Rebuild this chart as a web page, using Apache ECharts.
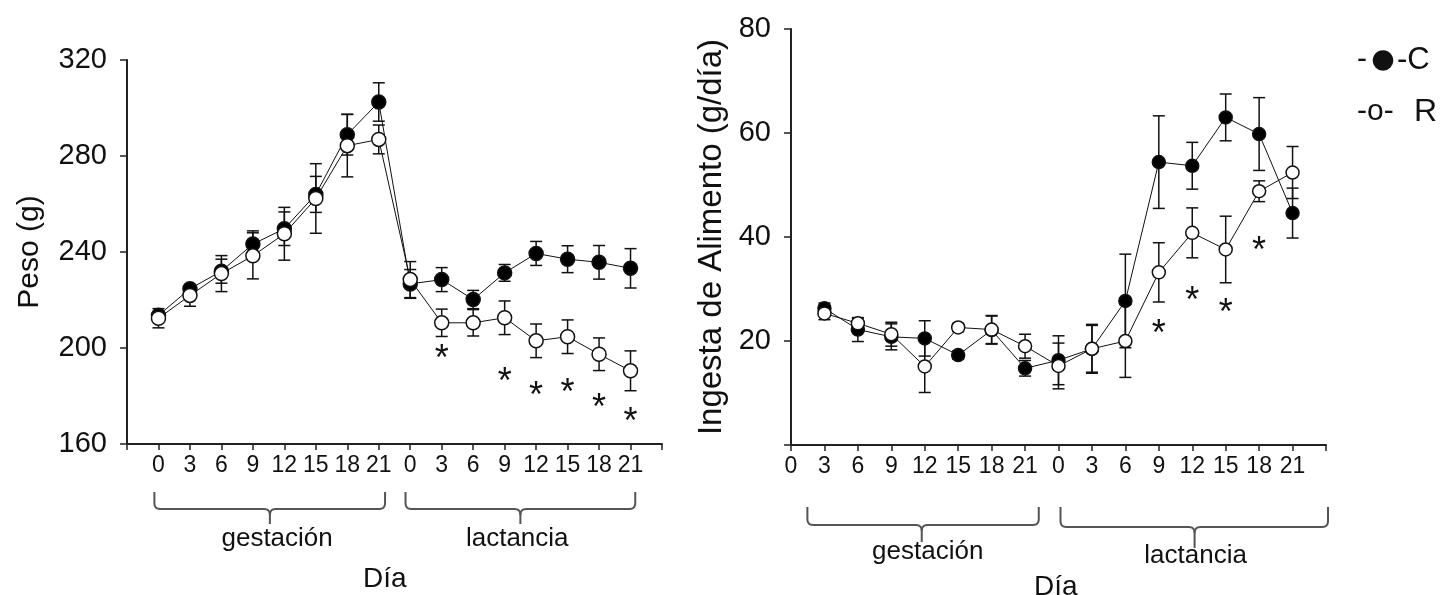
<!DOCTYPE html>
<html>
<head>
<meta charset="utf-8">
<title>Peso e ingesta de alimento</title>
<script src="https://cdn.jsdelivr.net/npm/echarts@6/dist/echarts.min.js"></script>
<style>
  html, body { margin: 0; background: #fff; }
  #chart { width: 1445px; height: 595px; }
</style>
</head>
<body>
<div id="chart"></div>
<script>
// etiquetas de día (gestación y lactancia)
const dayLabels = ['0', '3', '6', '9', '12', '15', '18', '21']
const pesoLabels = ['', ...dayLabels, ...dayLabels, '']
const ingestaLabels = [...dayLabels, ...dayLabels, '']

// Peso (g): gestación 0..21, lactancia 0..21
const pesoC = [213.6, 224.7, 232, 243.3, 249.7, 264, 288.9, 302.5, 226.7, 228.5, 220.2, 231.3, 239.4, 237, 235.7, 233.2]
const pesoCErr = [1.5, 1.5, 5, 5.5, 7, 7.5, 8.5, 8, 6, 5, 3.8, 3.5, 5, 5.6, 7, 8.2]
const pesoR = [212.4, 221.9, 231, 238.4, 247.6, 262.3, 284.3, 286.9, 228.5, 210.5, 210.5, 212.6, 203, 204.7, 197.4, 190.5]
const pesoRErr = [4, 4.5, 7.5, 9.6, 11, 14.5, 13, 6, 7.5, 5.7, 5.5, 7, 7, 7, 6.8, 8.3]
const pesoSigIdx = [10, 12, 13, 14, 15, 16]
const pesoSigY = [198.5, 188.8, 183, 184, 178, 172]

// Ingesta de alimento (g/día): gestación 3..21, lactancia 0..21
const ingC = [26.3, 22.2, 20.8, 20.5, 17.3, 22.1, 14.75, 16.3, 18.5, 27.7, 54.4, 53.7, 63.0, 59.8, 44.6]
const ingCErr = [1, 2.3, 2.5, 3.4, 0.8, 2.7, 1.5, 4.7, 4.5, 9, 8.9, 4.5, 4.5, 7, 4.8]
const ingR = [25.3, 23.4, 21.3, 15.1, 22.6, 22.2, 19.0, 15.2, 18.5, 20.0, 33.2, 40.8, 37.6, 48.8, 52.4]
const ingRErr = [1.2, 1, 2.3, 5, 0.8, 2.7, 2.3, 4.4, 4.7, 7, 5.7, 4.8, 6.4, 2, 5]
const ingSigIdx = [11, 12, 13, 14]
const ingSigY = [22.6, 29.1, 26.7, 38.6]

const FONT = '"Liberation Sans", Arial, sans-serif'
const NARROW = '"Liberation Sans Narrow", "Liberation Sans", Arial, sans-serif'
const INK = '#111'

const grids = [
  { left: 127, top: 60, width: 535, height: 384, n: pesoLabels.length },
  { left: 791, top: 29, width: 535, height: 416, n: ingestaLabels.length }
]

function px(g, idx) {
  return g.left + idx * g.width / (g.n - 1)
}

function pairs(values) {
  return values.map((v, i) => [i + 1, v])
}

function bars(values, errs) {
  return values.map((v, i) => [i + 1, v - errs[i], v + errs[i]])
}

function renderErr(params, api) {
  const x = api.value(0)
  const lo = api.coord([x, api.value(1)])
  const hi = api.coord([x, api.value(2)])
  const w = 6
  const style = { stroke: INK, lineWidth: 1.5 }
  return {
    type: 'group',
    children: [
      { type: 'line', shape: { x1: lo[0], y1: lo[1], x2: hi[0], y2: hi[1] }, style },
      { type: 'line', shape: { x1: lo[0] - w, y1: lo[1], x2: lo[0] + w, y2: lo[1] }, style },
      { type: 'line', shape: { x1: hi[0] - w, y1: hi[1], x2: hi[0] + w, y2: hi[1] }, style }
    ]
  }
}

function renderStar(params, api) {
  const p = api.coord([api.value(0), api.value(1)])
  return {
    type: 'text',
    x: p[0],
    y: p[1] + 8,
    style: {
      text: '*', fontSize: 36, fontFamily: FONT, fill: INK,
      align: 'center', verticalAlign: 'middle', textAlign: 'center', textVerticalAlign: 'middle'
    }
  }
}

function xAxisFor(gridIndex, labels) {
  return {
    type: 'category',
    gridIndex,
    data: labels,
    boundaryGap: false,
    axisLine: { lineStyle: { color: '#222', width: 2 } },
    axisTick: { interval: 0, length: 6, lineStyle: { color: '#222', width: 1.5 } },
    axisLabel: { interval: 0, margin: 10, fontSize: 23, fontFamily: NARROW, color: INK },
    splitLine: { show: false }
  }
}

function yAxisFor(gridIndex, min, max, interval, name, nameGap, nameSize, hideZero) {
  return {
    type: 'value',
    gridIndex, min, max, interval,
    name, nameLocation: 'middle', nameGap,
    nameTextStyle: { fontSize: nameSize, fontFamily: FONT, color: INK },
    axisLine: { show: true, lineStyle: { color: '#222', width: 2 } },
    axisTick: { show: true, length: 7, lineStyle: { color: '#222', width: 1.5 } },
    axisLabel: {
      margin: 20, fontSize: 29, fontFamily: FONT, color: INK,
      formatter: v => (hideZero && v === 0 ? '' : String(v))
    },
    splitLine: { show: false }
  }
}

function seriesFor(axis, c, cErr, r, rErr, sigIdx, sigY, size) {
  const base = { xAxisIndex: axis, yAxisIndex: axis }
  const line = (data, fill, z) => ({
    ...base, type: 'line', data, z,
    symbol: 'circle', symbolSize: size,
    lineStyle: { color: INK, width: 1 },
    itemStyle: { color: fill, borderColor: INK, borderWidth: 1.5 }
  })
  return [
    { ...base, type: 'custom', renderItem: renderErr, data: bars(c, cErr), z: 2 },
    { ...base, type: 'custom', renderItem: renderErr, data: bars(r, rErr), z: 2 },
    line(pairs(c), '#000', 3),
    line(pairs(r), '#fff', 4),
    { ...base, type: 'custom', renderItem: renderStar, data: sigIdx.map((x, i) => [x, sigY[i]]), z: 5 }
  ]
}

// curva cuadrática muestreada
function quad(p0, c, p1) {
  const pts = []
  for (let k = 1; k <= 6; k++) {
    const t = k / 6
    pts.push([
      (1 - t) * (1 - t) * p0[0] + 2 * (1 - t) * t * c[0] + t * t * p1[0],
      (1 - t) * (1 - t) * p0[1] + 2 * (1 - t) * t * c[1] + t * t * p1[1]
    ])
  }
  return pts
}

function brace(x1, x2, xm, yTop, yBar, yTip) {
  const r = 6
  const style = { stroke: '#555', lineWidth: 2, fill: null }
  const leftHalf = [[x1, yTop], [x1, yBar - r],
    ...quad([x1, yBar - r], [x1, yBar], [x1 + r, yBar]),
    [xm - r, yBar],
    ...quad([xm - r, yBar], [xm, yBar], [xm, yBar + r]),
    [xm, yTip]]
  const rightHalf = [[xm, yBar + r],
    ...quad([xm, yBar + r], [xm, yBar], [xm + r, yBar]),
    [x2 - r, yBar],
    ...quad([x2 - r, yBar], [x2, yBar], [x2, yBar - r]),
    [x2, yTop]]
  return [
    { type: 'polyline', shape: { points: leftHalf }, style },
    { type: 'polyline', shape: { points: rightHalf }, style }
  ]
}

function label(text, x, y, size, align) {
  return {
    type: 'text', x, y,
    style: {
      text, fontSize: size, fontFamily: FONT, fill: INK,
      align: align || 'center', verticalAlign: 'middle',
      textAlign: align || 'center', textVerticalAlign: 'middle'
    }
  }
}

function buildGraphic() {
  const g0 = grids[0], g1 = grids[1]
  const b0 = g0.top + g0.height
  const b1 = g1.top + g1.height
  return [
    // corchetes izquierda
    ...brace(px(g0, 0.87), px(g0, 8.2), px(g0, 4.54), b0 + 48, b0 + 65, b0 + 80),
    ...brace(px(g0, 8.85), px(g0, 16.15), px(g0, 12.5), b0 + 48, b0 + 65, b0 + 80),
    label('gestación', px(g0, 4.77), b0 + 95, 26),
    label('lactancia', px(g0, 12.4), b0 + 95, 26),
    label('Día', px(g0, 8.19), b0 + 135, 28),
    // corchetes derecha
    ...brace(px(g1, 0.49), px(g1, 7.41), px(g1, 3.91), b1 + 62, b1 + 80, b1 + 97),
    ...brace(px(g1, 8.06), px(g1, 16.06), px(g1, 12.07), b1 + 62, b1 + 82, b1 + 103),
    label('gestación', px(g1, 4.09), b1 + 107, 26),
    label('lactancia', px(g1, 12.1), b1 + 111, 26),
    label('Día', px(g1, 7.92), b1 + 142, 28),
    // leyenda
    label('-', 1357, 60, 30, 'left'),
    label('●', 1383, 61, 48),
    label('-C', 1397, 60, 31, 'left'),
    label('-o-', 1357, 112, 30, 'left'),
    label('R', 1414, 112, 32, 'left')
  ]
}

function init() {
  const chart = echarts.init(document.getElementById('chart'))
  chart.setOption({
    animation: false,
    backgroundColor: '#fff',
    grid: grids.map(g => ({ left: g.left, top: g.top, width: g.width, height: g.height })),
    xAxis: [xAxisFor(0, pesoLabels), xAxisFor(1, ingestaLabels)],
    yAxis: [
      yAxisFor(0, 160, 320, 40, 'Peso (g)', 82, 30, false),
      yAxisFor(1, 0, 80, 20, 'Ingesta de Alimento (g/día)', 63, 33, true)
    ],
    series: [
      ...seriesFor(0, pesoC, pesoCErr, pesoR, pesoRErr, pesoSigIdx, pesoSigY, 14),
      ...seriesFor(1, ingC, ingCErr, ingR, ingRErr, ingSigIdx, ingSigY, 13)
    ],
    graphic: buildGraphic()
  })
}

init()
</script>
</body>
</html>
